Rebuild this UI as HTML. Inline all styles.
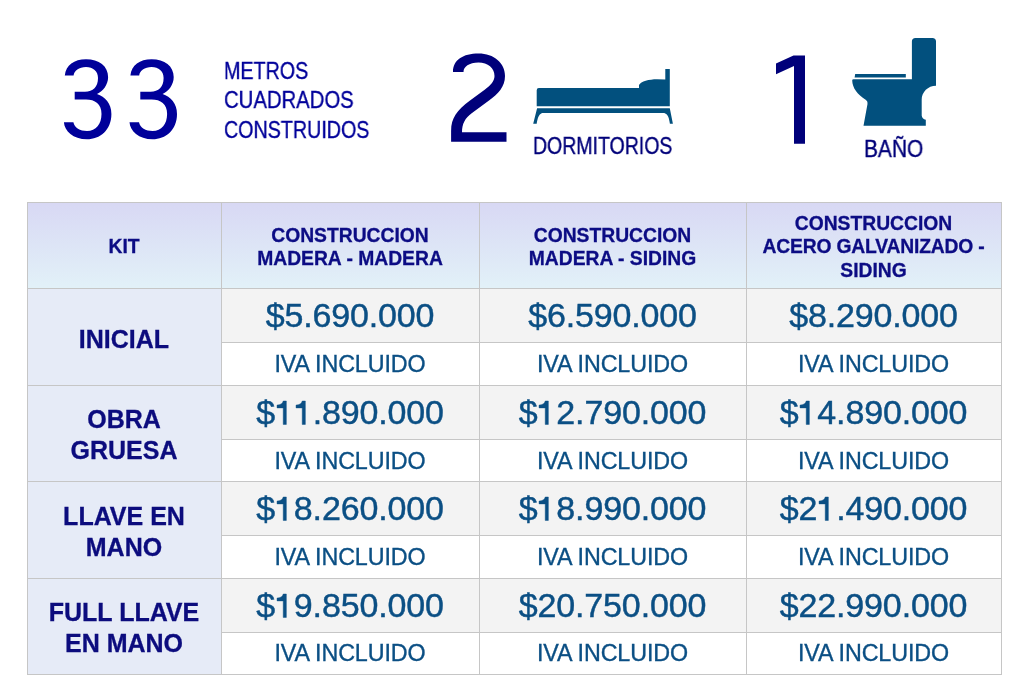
<!DOCTYPE html>
<html><head><meta charset="utf-8">
<style>
html,body{margin:0;padding:0;background:#fff;}
body{width:1024px;height:691px;position:relative;overflow:hidden;font-family:"Liberation Sans",sans-serif;}
.a{position:absolute;white-space:nowrap;}
.sm{-webkit-text-stroke:0.35px #00009a;color:#00009a;font-size:24px;line-height:29.3px;transform-origin:0 0;}
.bg{position:absolute;}
.hl{position:absolute;background:#c6c6c6;height:1px;}
.vl{position:absolute;background:#c6c6c6;width:1px;}
.hd{-webkit-text-stroke:0.3px #0c0c84;position:absolute;text-align:center;font-weight:bold;color:#0c0c84;font-size:19.3px;line-height:23.3px;}
.lb{-webkit-text-stroke:0.3px #0c0c7e;position:absolute;text-align:center;font-weight:bold;color:#0c0c7e;font-size:25px;line-height:31px;}
.pr{-webkit-text-stroke:0.45px #0b4f84;position:absolute;text-align:center;color:#0b4f84;font-size:34px;line-height:40px;white-space:nowrap;letter-spacing:-0.15px;}
.iv{-webkit-text-stroke:0.35px #0b4f84;position:absolute;text-align:center;color:#0b4f84;font-size:23.3px;line-height:26px;letter-spacing:-0.1px;}
.a,.hd,.lb,.pr,.iv{will-change:transform;}
.o{display:inline-block;width:0.556em;height:0.69em;vertical-align:baseline;position:relative;}
.o svg{position:absolute;left:0;top:0;width:100%;height:100%;overflow:visible;}
.o path{fill:#0b4f84;stroke:#0b4f84;stroke-width:13;}
</style></head><body>
<div class="a sm" style="left:224px;top:56px;transform:scaleX(0.82);">METROS</div>
<div class="a sm" style="left:224px;top:85.3px;transform:scaleX(0.846);">CUADRADOS</div>
<div class="a sm" style="left:224px;top:114.6px;transform:scaleX(0.82);">CONSTRUIDOS</div>
<div class="a sm" style="left:533px;top:132px;font-size:23px;transform:scaleX(0.848);color:#00007a;-webkit-text-stroke:0.35px #00007a;">DORMITORIOS</div>
<div class="a sm" style="left:864px;top:134.5px;font-size:23px;transform:scaleX(0.91);color:#00007a;-webkit-text-stroke:0.35px #00007a;">BAÑO</div>
<svg class="a" style="left:0;top:0" width="1024" height="691" viewBox="0 0 1024 691">
 <path fill="#00009a" d="M64.8,75.5 C66,65 74,59.2 86,59.2 C99,59.2 108.1,66 108.1,77 C108.1,85 103,91 97,94 C105,97 111.4,103 111.4,114 C111.4,130 100,139.3 87,139.3 C73,139.3 64.5,131 63.9,122.3 L73.4,122.3 C74.5,128 80,131 87,131 C96,131 101.5,124 101.5,114 C101.5,104 95,99.6 86,99.6 L74.7,99.6 L74.7,91.7 L85,91.7 C93,91.7 98,87 98,78 C98,71 93,67 86,67 C79,67 74,71 73.6,75.5 Z"/>
 <path fill="#00009a" transform="translate(65.6,0)" d="M64.8,75.5 C66,65 74,59.2 86,59.2 C99,59.2 108.1,66 108.1,77 C108.1,85 103,91 97,94 C105,97 111.4,103 111.4,114 C111.4,130 100,139.3 87,139.3 C73,139.3 64.5,131 63.9,122.3 L73.4,122.3 C74.5,128 80,131 87,131 C96,131 101.5,124 101.5,114 C101.5,104 95,99.6 86,99.6 L74.7,99.6 L74.7,91.7 L85,91.7 C93,91.7 98,87 98,78 C98,71 93,67 86,67 C79,67 74,71 73.6,75.5 Z"/>
 <path fill="#00007a" d="M453,71.9 C453,60 463,53.5 478.5,53.5 C494,53.5 505,63 505,76 C505,87 498,94 489,100.5 L472,113 C465,118 462,124 462,132.2 L506.5,132.2 L506.5,141.7 L451.1,141.7 L451.1,131 C451.1,118 457,110 470,100.5 L485,89.5 C491,85 494.5,81 494.5,76 C494.5,68 488,62.5 478.5,62.5 C469,62.5 463.5,67 463.5,71.9 Z"/>
 <path fill="#00007a" d="M805,55.6 L805,143.8 L794,143.8 L794,66 L776,74.2 L776,63.4 L793.5,55.6 Z"/>
 <g fill="#02507e">
  <path d="M538.9,88 L639,88 L639,85 C641,81 649,79.3 657,79.2 L665.3,79.5 L665.3,69 L669.8,69 L669.8,106.2 L536.7,106.2 L536.7,90.2 Q536.7,88 538.9,88 Z"/>
  <path d="M537.1,108.2 L669.8,108.2 L672.9,123.7 L669.9,123.7 C669,119 668.5,114.5 664.3,113.1 L542.1,113.1 C538.5,114.5 537.5,119 536.7,123.7 L533.2,123.7 Z"/>
  <path d="M915.5,38 L932.3,38 Q936,38 936,41.6 L936,85.7 C928,85.7 921.7,92 921.7,99.5 L921.7,115.4 Q922,118.5 925.8,119.8 L925.8,125.8 L863.5,125.8 L867.5,104 Q868,101.5 866,100 C857,94 852.5,88 852.2,80.5 Q852.2,79.2 853.5,79.2 L911.9,79.2 L911.9,41.6 Q911.9,38 915.5,38 Z"/>
  <path d="M855.2,74.1 L905.8,74.1 L905.8,77.5 L854.6,77.5 Z"/>
 </g>
</svg>
<div class="bg" style="left:27px;top:202px;width:974px;height:86px;background:linear-gradient(#d8d8f4,#e2f1f8);"></div>
<div class="bg" style="left:27px;top:288px;width:194px;height:386px;background:#e6ebf7;"></div>
<div class="bg" style="left:221px;top:288px;width:780px;height:54px;background:#f3f3f3;"></div>
<div class="bg" style="left:221px;top:385px;width:780px;height:54px;background:#f3f3f3;"></div>
<div class="bg" style="left:221px;top:481px;width:780px;height:54px;background:#f3f3f3;"></div>
<div class="bg" style="left:221px;top:578px;width:780px;height:54px;background:#f3f3f3;"></div>
<div class="hl" style="left:27px;top:202px;width:975px;"></div>
<div class="hl" style="left:27px;top:288px;width:975px;"></div>
<div class="hl" style="left:27px;top:385px;width:975px;"></div>
<div class="hl" style="left:27px;top:481px;width:975px;"></div>
<div class="hl" style="left:27px;top:578px;width:975px;"></div>
<div class="hl" style="left:27px;top:674px;width:975px;"></div>
<div class="hl" style="left:221px;top:342px;width:780px;"></div>
<div class="hl" style="left:221px;top:439px;width:780px;"></div>
<div class="hl" style="left:221px;top:535px;width:780px;"></div>
<div class="hl" style="left:221px;top:632px;width:780px;"></div>
<div class="vl" style="left:27px;top:202px;height:473px;"></div>
<div class="vl" style="left:221px;top:202px;height:473px;"></div>
<div class="vl" style="left:479px;top:202px;height:473px;"></div>
<div class="vl" style="left:746px;top:202px;height:473px;"></div>
<div class="vl" style="left:1001px;top:202px;height:473px;"></div>
<div class="hd" style="left:27px;top:234.5px;width:194px;">KIT</div>
<div class="hd" style="left:221px;top:223.5px;width:258px;">CONSTRUCCION<br>MADERA - MADERA</div>
<div class="hd" style="left:479px;top:223.5px;width:267px;">CONSTRUCCION<br>MADERA - SIDING</div>
<div class="hd" style="left:746px;top:211.5px;width:255px;">CONSTRUCCION<br><span style="letter-spacing:-0.17px">ACERO GALVANIZADO -</span><br>SIDING</div>
<div class="lb" style="left:27px;top:323.5px;width:194px;">INICIAL</div>
<div class="lb" style="left:27px;top:404px;width:194px;">OBRA<br>GRUESA</div>
<div class="lb" style="left:27px;top:500.5px;width:194px;">LLAVE EN<br>MANO</div>
<div class="lb" style="left:27px;top:596.5px;width:194px;">FULL LLAVE<br>EN MANO</div>
<div class="pr" style="left:221px;top:295px;width:258px;">$5.690.000</div>
<div class="pr" style="left:479px;top:295px;width:267px;">$6.590.000</div>
<div class="pr" style="left:746px;top:295px;width:255px;">$8.290.000</div>
<div class="iv" style="left:221px;top:350.5px;width:258px;">IVA INCLUIDO</div>
<div class="iv" style="left:479px;top:350.5px;width:267px;">IVA INCLUIDO</div>
<div class="iv" style="left:746px;top:350.5px;width:255px;">IVA INCLUIDO</div>
<div class="pr" style="left:221px;top:392px;width:258px;">$<span class="o"><svg viewBox="0 0 556 690" preserveAspectRatio="none"><path d="M334,0 L334,690 L242,690 L242,203 L60,203 L60,120 C150,118 228,75 242,0 Z"/></svg></span><span class="o"><svg viewBox="0 0 556 690" preserveAspectRatio="none"><path d="M334,0 L334,690 L242,690 L242,203 L60,203 L60,120 C150,118 228,75 242,0 Z"/></svg></span>.890.000</div>
<div class="pr" style="left:479px;top:392px;width:267px;">$<span class="o"><svg viewBox="0 0 556 690" preserveAspectRatio="none"><path d="M334,0 L334,690 L242,690 L242,203 L60,203 L60,120 C150,118 228,75 242,0 Z"/></svg></span>2.790.000</div>
<div class="pr" style="left:746px;top:392px;width:255px;">$<span class="o"><svg viewBox="0 0 556 690" preserveAspectRatio="none"><path d="M334,0 L334,690 L242,690 L242,203 L60,203 L60,120 C150,118 228,75 242,0 Z"/></svg></span>4.890.000</div>
<div class="iv" style="left:221px;top:447.5px;width:258px;">IVA INCLUIDO</div>
<div class="iv" style="left:479px;top:447.5px;width:267px;">IVA INCLUIDO</div>
<div class="iv" style="left:746px;top:447.5px;width:255px;">IVA INCLUIDO</div>
<div class="pr" style="left:221px;top:488px;width:258px;">$<span class="o"><svg viewBox="0 0 556 690" preserveAspectRatio="none"><path d="M334,0 L334,690 L242,690 L242,203 L60,203 L60,120 C150,118 228,75 242,0 Z"/></svg></span>8.260.000</div>
<div class="pr" style="left:479px;top:488px;width:267px;">$<span class="o"><svg viewBox="0 0 556 690" preserveAspectRatio="none"><path d="M334,0 L334,690 L242,690 L242,203 L60,203 L60,120 C150,118 228,75 242,0 Z"/></svg></span>8.990.000</div>
<div class="pr" style="left:746px;top:488px;width:255px;">$2<span class="o"><svg viewBox="0 0 556 690" preserveAspectRatio="none"><path d="M334,0 L334,690 L242,690 L242,203 L60,203 L60,120 C150,118 228,75 242,0 Z"/></svg></span>.490.000</div>
<div class="iv" style="left:221px;top:543.5px;width:258px;">IVA INCLUIDO</div>
<div class="iv" style="left:479px;top:543.5px;width:267px;">IVA INCLUIDO</div>
<div class="iv" style="left:746px;top:543.5px;width:255px;">IVA INCLUIDO</div>
<div class="pr" style="left:221px;top:585px;width:258px;">$<span class="o"><svg viewBox="0 0 556 690" preserveAspectRatio="none"><path d="M334,0 L334,690 L242,690 L242,203 L60,203 L60,120 C150,118 228,75 242,0 Z"/></svg></span>9.850.000</div>
<div class="pr" style="left:479px;top:585px;width:267px;">$20.750.000</div>
<div class="pr" style="left:746px;top:585px;width:255px;">$22.990.000</div>
<div class="iv" style="left:221px;top:640px;width:258px;">IVA INCLUIDO</div>
<div class="iv" style="left:479px;top:640px;width:267px;">IVA INCLUIDO</div>
<div class="iv" style="left:746px;top:640px;width:255px;">IVA INCLUIDO</div>
</body></html>
